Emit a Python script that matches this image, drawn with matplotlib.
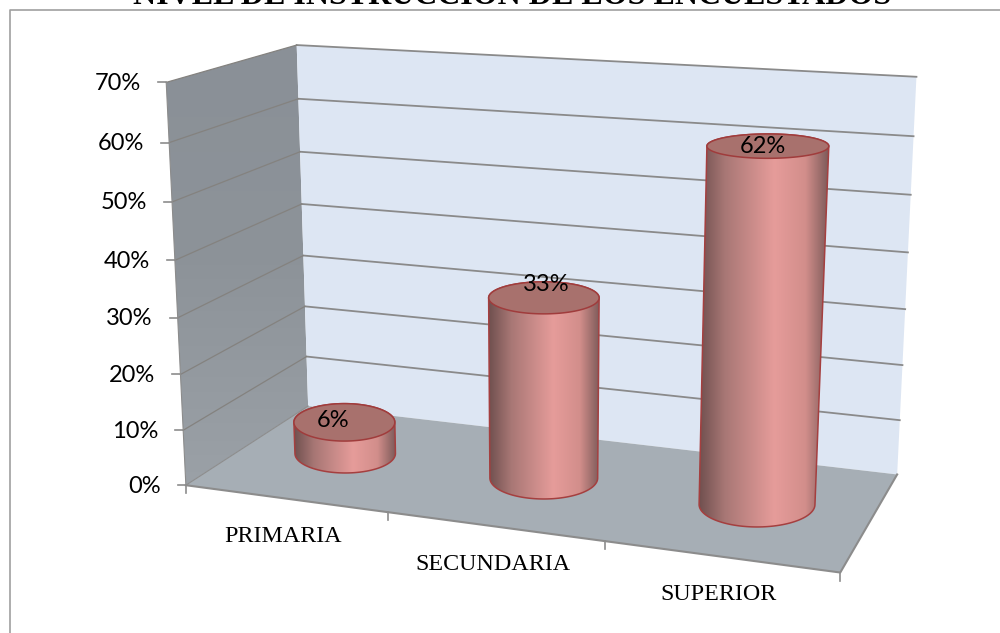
import numpy as np
import matplotlib
matplotlib.use("Agg")
import matplotlib.pyplot as plt
from matplotlib.colors import LinearSegmentedColormap
from matplotlib.patches import Polygon

categorias = ["PRIMARIA", "SECUNDARIA", "SUPERIOR"]
valores = [6, 33, 62]
niveles = [0, 10, 20, 30, 40, 50, 60, 70]
titulo = "NIVEL DE INSTRUCCIÓN DE LOS ENCUESTADOS"

# caja del grafico (categoria, profundidad, valor) -> donde cae en la imagen
caja = np.array([[0, 0, 0], [3, 0, 0], [3, 1, 0], [0, 1, 0],
                 [0, 0, 70], [0, 1, 70], [3, 1, 70],
                 [0, 0, 30], [0, 1, 30], [3, 1, 30]], float)
imagen = np.array([[186, 485], [840, 573], [897, 474], [308, 406],
                   [166, 82], [297, 45], [916, 77],
                   [178, 318], [303, 256], [906, 309]], float)

A = []
b = []
for p, q in zip(caja, imagen):
    A.append([p[0], p[1], p[2], 1, 0, 0, 0, 0, -q[0]*p[0], -q[0]*p[1], -q[0]*p[2]])
    A.append([0, 0, 0, 0, p[0], p[1], p[2], 1, -q[1]*p[0], -q[1]*p[1], -q[1]*p[2]])
    b += [q[0], q[1]]
h = np.linalg.lstsq(np.array(A), np.array(b), rcond=None)[0]
M = np.append(h, 1).reshape(3, 4)


def proy(x, d, v):
    w = M @ np.array([x, d, v, 1.0])
    return w[0]/w[2], w[1]/w[2]


def puntos(x, d, v):
    return np.array([proy(a, c, e) for a, c, e in zip(x, d, v)])


fig = plt.figure(figsize=(10, 6.33), dpi=100)
ax = fig.add_axes([0, 0, 1, 1])

# paredes y piso
pared_izq = Polygon(puntos([0, 0, 0, 0], [0, 1, 1, 0], [0, 0, 70, 70]), fc="none", ec="none", zorder=1)
ax.add_patch(pared_izq)
gris = LinearSegmentedColormap.from_list("gris", ["#8a9097", "#8d9399", "#9ba1a7"])
im = ax.imshow(np.linspace(0, 1, 128).reshape(-1, 1), cmap=gris, aspect="auto", zorder=1,
               extent=[160, 310, 490, 40])
im.set_clip_path(pared_izq)
ax.add_patch(Polygon(puntos([0, 3, 3, 0], [1, 1, 1, 1], [0, 0, 70, 70]),
                     fc="#dde6f3", ec="none", zorder=1))
ax.add_patch(Polygon(puntos([0, 3, 3, 0], [0, 0, 1, 1], [0, 0, 0, 0]),
                     fc="#a6aeb5", ec="none", zorder=2))

for n in niveles:
    if n > 0:
        ax.plot(*puntos([0, 3], [1, 1], [n, n]).T, color="#8a8a8a", lw=1.3, zorder=2)
        ax.plot(*puntos([0, 0], [0, 1], [n, n]).T, color="#84827f", lw=0.9, zorder=2)
    xt, yt = proy(0, 0, n)
    ax.plot([xt-8, xt], [yt, yt], color="#8c8c8c", lw=1.2, zorder=3)
    ax.text(xt-25, yt+1, f"{n}%", ha="right", va="center", fontsize=17,
            family="Lato", color="black")

ax.plot(*puntos([0, 0, 0], [0, 0, 1], [70, 0, 0]).T, color="#8c8c8c", lw=0.8, zorder=3)
ax.plot(*puntos([0, 3, 3], [0, 0, 1], [0, 0, 0]).T, color="#8c8c8c", lw=1.5, zorder=3)
for i in range(4):
    xt, yt = proy(i, 0, 0)
    ax.plot([xt, xt], [yt, yt+8], color="#8c8c8c", lw=1.2, zorder=3)

for i, cat in enumerate(categorias):
    xt, yt = proy(i+0.5, 0, 0)
    ax.text(xt-2, yt+38, cat, ha="center", va="center", fontsize=17.3,
            family="Liberation Serif", color="black")

# cilindros
brillo = LinearSegmentedColormap.from_list(
    "brillo", [(0, "#70504f"), (0.2, "#a87775"), (0.58, "#e69c9a"),
               (0.82, "#d28e8b"), (1, "#7c5a59")])
r_x = 0.262
r_d = 0.24
prof = 0.52
corr_txt = [(-11, -2), (2, -13), (-5, 0)]


def elipse(x, v):
    # las tapas se ven horizontales, ancho y alto salen de la proyeccion
    cx, cy = proy(x, prof, v)
    a = (proy(x+r_x, prof, v)[0] - proy(x-r_x, prof, v)[0])/2
    c = (proy(x, prof-r_d, v)[1] - proy(x, prof+r_d, v)[1])/2
    return cx-2, cy, a, c


for i, v in enumerate(valores):
    bx, by, ba, bc = elipse(i+0.5, 0)
    tx, ty, ta, tc = elipse(i+0.5, v)
    ty = by + (ty-by)*0.985
    s1 = np.linspace(0, np.pi, 80)
    s2 = np.linspace(np.pi, 2*np.pi, 80)
    cuerpo = np.r_[np.c_[bx+ba*np.cos(s1), by+bc*np.sin(s1)],
                   np.c_[tx+ta*np.cos(s2), ty+tc*np.sin(s2)]]
    zz = 5 + i
    forma = Polygon(cuerpo, closed=True, fc="none", ec="#a53f3f", lw=1.1, zorder=zz+0.2)
    ax.add_patch(forma)
    im = ax.imshow(np.linspace(0, 1, 256).reshape(1, -1), cmap=brillo, aspect="auto", zorder=zz,
                   extent=[cuerpo[:, 0].min(), cuerpo[:, 0].max(),
                           cuerpo[:, 1].max(), cuerpo[:, 1].min()])
    im.set_clip_path(forma)
    s = np.linspace(0, 2*np.pi, 160)
    ax.fill(tx+ta*np.cos(s), ty+tc*np.sin(s), fc="#a8716d", ec="#a03c3c", lw=1.1, zorder=zz+0.3)
    ax.text(tx+corr_txt[i][0], ty+corr_txt[i][1], f"{v}%", ha="center", va="center",
            fontsize=17, family="Lato", color="black", zorder=20)

# marco y titulo
ax.plot([9.5, 9.5, 1000], [633, 10, 10], color="#a0a0a0", lw=1.2, zorder=4)
ax.text(512, 4, titulo, ha="center", va="baseline", fontsize=23, fontweight="bold",
        family="Liberation Serif", color="black", zorder=4)

ax.set_xlim(0, 1000)
ax.set_ylim(633, 0)
ax.axis("off")
fig.savefig("out.png", dpi=100)
